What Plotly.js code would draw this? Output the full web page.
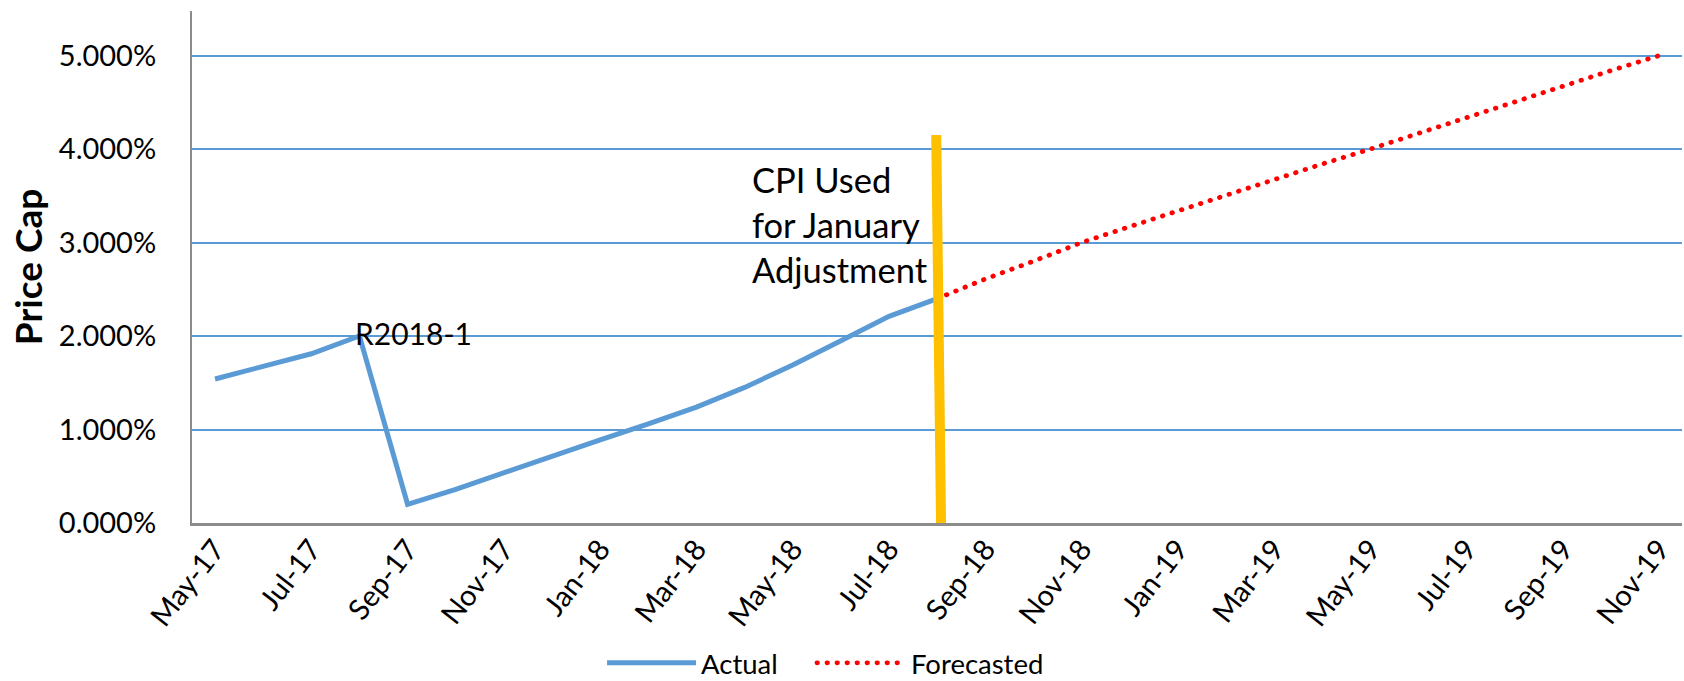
<!DOCTYPE html>
<html>
<head>
<meta charset="utf-8">
<script src="https://cdn.plot.ly/plotly-3.0.1.min.js"></script>
<style>
html,body{margin:0;padding:0;background:#fff;}
#chart{width:1684px;height:681px;}
</style>
</head>
<body>
<div id="chart"></div>
<script>
// Monthly categories (x axis)
const months = ['May-17','Jun-17','Jul-17','Aug-17','Sep-17','Oct-17','Nov-17','Dec-17',
  'Jan-18','Feb-18','Mar-18','Apr-18','May-18','Jun-18','Jul-18','Aug-18',
  'Sep-18','Oct-18','Nov-18','Dec-18','Jan-19','Feb-19','Mar-19','Apr-19',
  'May-19','Jun-19','Jul-19','Aug-19','Sep-19','Oct-19','Nov-19'];
// Tick labels shown (every other month)
const tickLabels = ['May-17','Jul-17','Sep-17','Nov-17','Jan-18','Mar-18','May-18','Jul-18',
  'Sep-18','Nov-18','Jan-19','Mar-19','May-19','Jul-19','Sep-19','Nov-19'];
// Actual series (%), May-17 .. Aug-18
const actualMonths = months.slice(0, 16);
const actualValues = [1.54,1.67,1.81,2.00,0.20,0.36,0.54,0.72,0.89,1.06,1.24,1.45,1.69,1.95,2.21,2.40];
// Forecasted series (%), Aug-18 .. Nov-19
const forecastMonths = months.slice(15);
const forecastValues = [2.40,2.61,2.80,3.00,3.17,3.34,3.50,3.67,3.84,4.00,4.17,4.34,4.50,4.67,4.84,5.00];
// Y ticks (%)
const yTicks = [0,1,2,3,4,5];
const yTickText = ['0.000%','1.000%','2.000%','3.000%','4.000%','5.000%'];
// Annotation marker: CPI month and height of the marker line (%)
const cpiMonth = 'Aug-18';
const cpiTop = 4.15;
const r2018Month = 'Aug-17';
const r2018Level = 2.03;
const cpiTextLevel = 3.19;

const FONT = 'Lato, "Liberation Sans", sans-serif';
const cpiIdx = months.indexOf(cpiMonth);

const traces = [
  {
    x: actualMonths, y: actualValues, name: 'Actual', type: 'scatter', mode: 'lines',
    line: {color: '#5B9BD5', width: 5}, legend: 'legend'
  },
  {
    x: forecastMonths, y: forecastValues, name: 'Forecasted', type: 'scatter', mode: 'lines',
    line: {color: '#FF0000', width: 4.8, dash: '0.5px,9.5px'}, legend: 'legend2'
  }
];

const legendBase = {
  orientation: 'h', xanchor: 'left', y: -0.2734, yanchor: 'middle',
  font: {family: FONT, size: 27.5, color: '#000'},
  itemwidth: 89, bgcolor: 'rgba(0,0,0,0)'
};

const layout = {
  width: 1684, height: 681,
  margin: {l: 192, r: 2, t: 11, b: 158, autoexpand: false},
  paper_bgcolor: '#fff', plot_bgcolor: '#fff',
  font: {family: FONT, color: '#000'},
  showlegend: true,
  legend: Object.assign({}, legendBase, {x: 0.2752}),
  legend2: Object.assign({}, legendBase, {x: 0.4161}),
  xaxis: {
    type: 'category', categoryorder: 'array', categoryarray: months,
    range: [-0.478, 30.47],
    tickmode: 'array', tickvals: tickLabels, ticktext: tickLabels,
    tickangle: -52, ticks: '', ticklabelstandoff: -5,
    tickfont: {family: FONT, size: 29, color: '#000'},
    showgrid: false, zeroline: false,
    showline: true, linecolor: '#8C8C8C', linewidth: 2.5,
    automargin: false
  },
  yaxis: {
    range: [0, 5.476],
    tickmode: 'array', tickvals: yTicks, ticktext: yTickText,
    ticks: '', ticklabelstandoff: 28,
    tickfont: {family: FONT, size: 29, color: '#000'},
    showgrid: true, gridcolor: '#5B9BD5', gridwidth: 2,
    zeroline: false,
    showline: true, linecolor: '#8C8C8C', linewidth: 2,
    title: {text: 'Price Cap', font: {family: FONT, size: 37, color: '#000', weight: 'bold'}, standoff: 5},
    automargin: false
  },
  shapes: [
    {
      type: 'line', xref: 'x', yref: 'y',
      x0: cpiIdx - 0.02, y0: cpiTop, x1: cpiIdx + 0.08, y1: 0,
      line: {color: '#FFC000', width: 10}
    }
  ],
  annotations: [
    {
      x: months.indexOf(r2018Month), y: r2018Level, xref: 'x', yref: 'y',
      text: 'R2018-1', showarrow: false, xanchor: 'left', yanchor: 'middle', xshift: -6,
      font: {family: FONT, size: 30, color: '#000'}
    },
    {
      x: cpiIdx, y: cpiTextLevel, xref: 'x', yref: 'y',
      text: 'CPI Used<br>for January<br>Adjustment', showarrow: false,
      xanchor: 'right', yanchor: 'middle', align: 'left', xshift: -7,
      font: {family: FONT, size: 34.5, color: '#000'}
    }
  ]
};

Plotly.newPlot('chart', traces, layout, {displayModeBar: false, staticPlot: true}).then(function (gd) {
  // Round caps so the dotted forecast line shows round dots, as in the reference
  const traceGroups = gd.querySelectorAll('.scatterlayer .trace');
  if (traceGroups[1]) {
    traceGroups[1].querySelectorAll('path.js-line').forEach(function (p) { p.style.strokeLinecap = 'round'; });
  }
  gd.querySelectorAll('.legendlines path').forEach(function (p) {
    if ((p.style.stroke || '').indexOf('255, 0, 0') >= 0) p.style.strokeLinecap = 'round';
  });
});
</script>
</body>
</html>
